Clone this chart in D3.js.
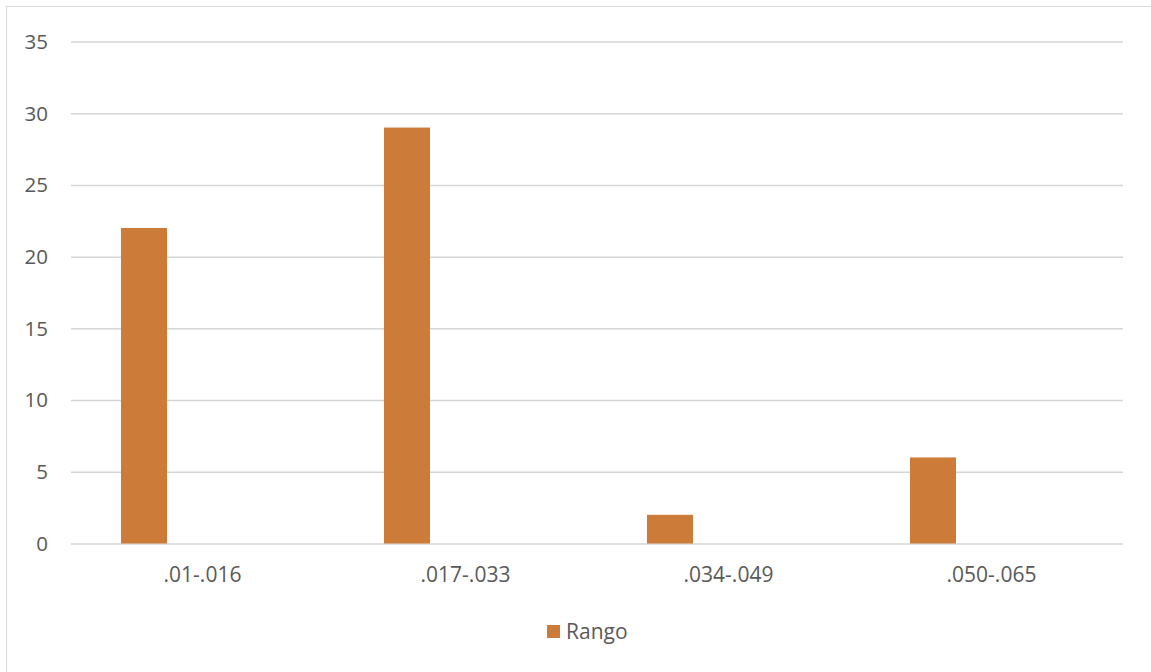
<!DOCTYPE html>
<html>
<head>
<meta charset="utf-8">
<script src="https://cdn.jsdelivr.net/npm/d3@7"></script>
<style>
  body { margin: 0; background: #fff; }
  text { font-family: "Open Sans", "Noto Sans", sans-serif; fill: #595959; }
</style>
</head>
<body>
<svg width="1151" height="672"></svg>
<script>
// data
const categories = [".01-.016", ".017-.033", ".034-.049", ".050-.065"];
const rango = [22, 29, 2, 6];
const yTicks = [0, 5, 10, 15, 20, 25, 30, 35];
const seriesName = "Rango";

const svg = d3.select("svg");

// chart frame (right/bottom edges fall outside the picture)
svg.append("rect")
  .attr("x", 6.5)
  .attr("y", 6.5)
  .attr("width", 1160)
  .attr("height", 680)
  .attr("fill", "none")
  .attr("stroke", "#d9d9d9");

const plotLeft = 71, plotRight = 1123, plotTop = 41.5, plotBottom = 543.5;

const xScale = d3.scaleBand()
  .domain(categories)
  .range([plotLeft, plotRight]);

const yScale = d3.scaleLinear()
  .domain([0, 35])
  .range([plotBottom, plotTop]);

// grid lines
svg.append("g")
  .attr("class", "grid")
  .attr("transform", `translate(${plotLeft}, 0)`)
  .call(d3.axisLeft(yScale).tickValues(yTicks).tickSize(-(plotRight - plotLeft)).tickFormat(""))
  .call(g => g.select(".domain").remove())
  .call(g => g.selectAll("line").attr("stroke", "#d5d5d5").attr("stroke-width", 1.5));

// y labels
svg.append("g")
  .selectAll("text")
  .data(yTicks)
  .enter()
  .append("text")
  .attr("x", 48)
  .attr("y", d => yScale(d))
  .attr("dy", "0.36em")
  .attr("text-anchor", "end")
  .style("font-size", "20.5px")
  .text(d => d);

// bars
const bw = xScale.bandwidth();
svg.append("g")
  .selectAll("rect")
  .data(rango)
  .enter()
  .append("rect")
  .attr("x", (d, i) => xScale(categories[i]) + bw * 0.19)
  .attr("y", d => yScale(d))
  .attr("width", bw * 0.175)
  .attr("height", d => yScale(0) - yScale(d))
  .attr("fill", "#cc7b39");

// x labels
svg.append("g")
  .selectAll("text")
  .data(categories)
  .enter()
  .append("text")
  .attr("x", d => xScale(d) + bw / 2)
  .attr("y", 582)
  .attr("text-anchor", "middle")
  .style("font-size", "21px")
  .text(d => d);

// legend
svg.append("rect")
  .attr("x", 547)
  .attr("y", 625)
  .attr("width", 13)
  .attr("height", 13)
  .attr("fill", "#cc7b39");

svg.append("text")
  .attr("x", 566)
  .attr("y", 639)
  .style("font-size", "21px")
  .text(seriesName);
</script>
</body>
</html>
